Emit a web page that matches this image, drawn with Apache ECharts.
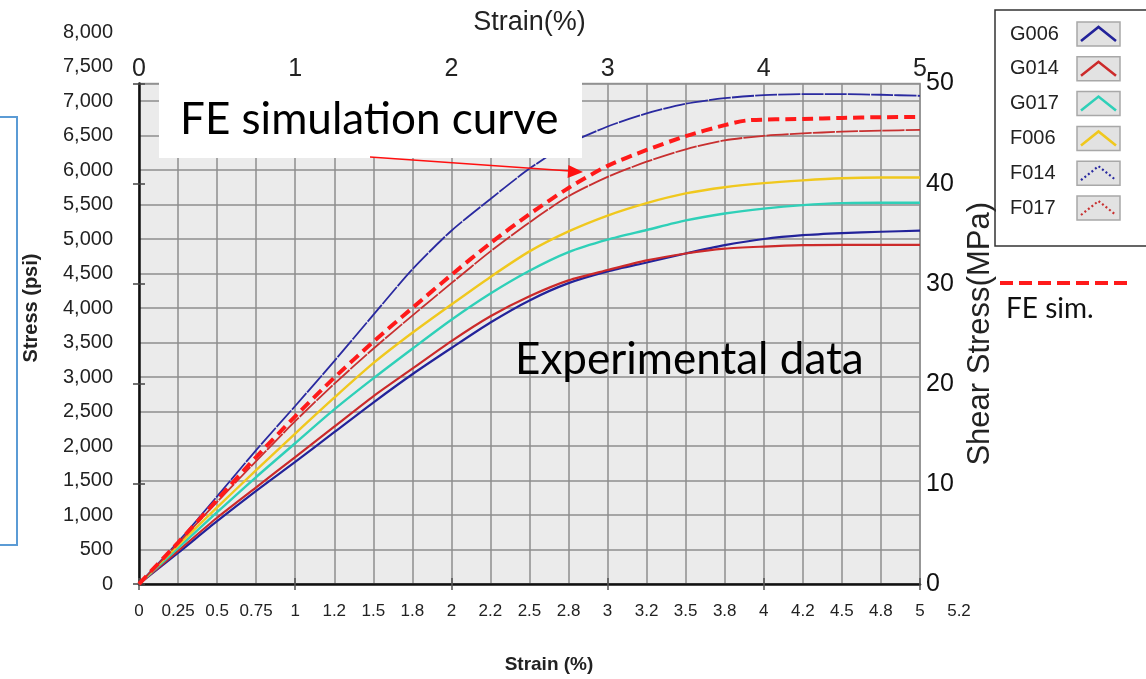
<!DOCTYPE html>
<html>
<head>
<meta charset="utf-8">
<script src="https://cdn.jsdelivr.net/npm/echarts@6/dist/echarts.min.js"></script>
<style>
html,body{margin:0;padding:0;background:#fff;}
#chart{width:1146px;height:679px;}
</style>
</head>
<body>
<div id="chart"></div>
<script>
// ---- data (strain in %, stress in psi) ----
const strain = [0,0.25,0.5,0.75,1,1.25,1.5,1.75,2,2.25,2.5,2.75,3,3.25,3.5,3.75,4,4.25,4.5,4.75,5];
const G006 = [0,450,910,1350,1770,2200,2630,3040,3420,3790,4110,4360,4530,4660,4790,4910,5000,5055,5085,5105,5120];
const G014 = [0,480,960,1400,1840,2280,2720,3120,3520,3880,4170,4400,4550,4690,4790,4860,4890,4910,4915,4915,4915];
const G017 = [0,520,1040,1550,2040,2530,2980,3410,3830,4210,4540,4810,4990,5130,5270,5370,5440,5490,5520,5525,5525];
const F006 = [0,560,1110,1650,2180,2700,3200,3640,4050,4450,4820,5110,5340,5520,5660,5750,5810,5850,5880,5890,5890];
const F014 = [0,610,1270,1940,2580,3230,3900,4560,5120,5580,6020,6380,6630,6820,6960,7040,7085,7100,7100,7090,7075];
const F017 = [0,590,1190,1780,2360,2900,3410,3890,4360,4820,5240,5620,5900,6120,6300,6430,6495,6530,6555,6570,6580];
const feStrain = [0,0.25,0.5,0.75,1,1.25,1.5,1.75,2,2.25,2.5,2.75,3,3.25,3.5,3.75,3.9,4.25,4.5,4.75,5];
const feSim = [0,600,1220,1840,2430,2990,3510,4000,4480,4940,5360,5740,6060,6290,6490,6650,6720,6740,6755,6765,6770];

const seriesNames = ['G006','G014','G017','F006','F014','F017'];
const bottomTickLabels = ['0','0.25','0.5','0.75','1','1.2','1.5','1.8','2','2.2','2.5','2.8','3','3.2','3.5','3.8','4','4.2','4.5','4.8','5','5.2'];
const topTickLabels = ['0','1','2','3','4','5'];
const mpaTickLabels = ['0','10','20','30','40','50'];

// ---- styles ----
const PSI_PER_MPA = 145.038;
const colors = {G006:'#23239a', G014:'#cc2a2a', G017:'#2fd0b8', F006:'#f0c81e', F014:'#2a2aa0', F017:'#c83030', FE:'#ff1a1a'};
const dashes = {G006:'solid', G014:'solid', G017:'solid', F006:'solid', F014:[22,1.2], F017:[22,1.2]};
const widths = {G006:2.2, G014:2.2, G017:2.4, F006:2.4, F014:1.8, F017:1.8};
const dataMap = {G006, G014, G017, F006, F014, F017};

const pair = (xs, ys) => xs.map((x, i) => [x, ys[i]]);
const FONT = "'Liberation Sans', Arial, sans-serif";
const ANNO = "Lato, 'Open Sans', sans-serif";

const plot = {left:139, top:83.6, width:781, height:500.4};

const series = seriesNames.map(n => ({
  name: n, type: 'line', xAxisIndex: 0, yAxisIndex: 0,
  data: pair(strain, dataMap[n]), showSymbol: false, symbol: 'none',
  smooth: 0.25,
  lineStyle: {color: colors[n], width: widths[n], type: dashes[n]},
  itemStyle: {color: colors[n]}, z: 3
}));
series.push({
  name: 'FE sim.', type: 'line', xAxisIndex: 0, yAxisIndex: 0,
  data: pair(feStrain, feSim), showSymbol: false, symbol: 'none',
  smooth: 0.25,
  lineStyle: {color: colors.FE, width: 4, type: [11, 6]}, z: 5
});

// legend (text via legend component, icon boxes drawn as graphics)
const legendTop = 10, legendPadTop = 13, itemH = 22, itemGap = 12.8;
const legendIcons = [];
seriesNames.forEach((n, i) => {
  const y = legendTop + legendPadTop + i * (itemH + itemGap) - 1;
  const x = 1077;
  legendIcons.push({
    type: 'rect', z: 6,
    shape: {x: x, y: y, width: 43, height: 24},
    style: {fill: '#e2e2e2', stroke: '#a8a8a8', lineWidth: 1.5}
  });
  const dotted = (n === 'F014' || n === 'F017');
  legendIcons.push({
    type: 'polyline', z: 7,
    shape: {points: [[x + 4, y + 19], [x + 21.5, y + 5], [x + 39, y + 19]]},
    style: {stroke: colors[n], lineWidth: dotted ? 2.2 : 2.6, fill: 'none',
            lineDash: dotted ? [2, 2.5] : null}
  });
});

const chart = echarts.init(document.getElementById('chart'));
chart.setOption({
  animation: false,
  backgroundColor: '#ffffff',
  grid: [
    {left: plot.left, top: plot.top, width: plot.width, height: plot.height, show: true,
     backgroundColor: '#ebebeb', borderColor: '#9a9a9a', borderWidth: 1.5},
    {left: plot.left, top: 584 - 552, width: plot.width, height: 552, show: false},
    {left: plot.left, top: plot.top, width: 820, height: plot.height, show: false}
  ],
  xAxis: [
    {gridIndex: 0, type: 'value', position: 'bottom', min: 0, max: 5, interval: 0.25,
     axisLine: {show: true, onZero: false, lineStyle: {color: '#111', width: 2.5}},
     axisTick: {show: false}, axisLabel: {show: false},
     splitLine: {show: true, lineStyle: {color: '#8e8e8e', width: 1.5}}},
    {gridIndex: 0, type: 'value', position: 'top', min: 0, max: 5, interval: 1,
     axisLine: {show: false}, splitLine: {show: false},
     axisTick: {show: true, inside: true, length: 6, lineStyle: {color: '#555', width: 1.5}},
     axisLabel: {show: true, margin: 2, fontFamily: FONT, fontSize: 25, color: '#222',
                 formatter: v => topTickLabels[Math.round(v)]},
     name: 'Strain(%)', nameLocation: 'middle', nameGap: 48,
     nameTextStyle: {fontFamily: FONT, fontSize: 27, color: '#222'}},
    {gridIndex: 0, type: 'value', position: 'bottom', min: 0, max: 5, interval: 1,
     axisLine: {show: false}, splitLine: {show: false}, axisLabel: {show: false},
     axisTick: {show: true, inside: true, length: 6, lineStyle: {color: '#555', width: 1.5}}},
    {gridIndex: 1, type: 'value', show: false, min: 0, max: 5},
    {gridIndex: 2, type: 'value', position: 'bottom', min: 0, max: 5.25, interval: 0.25,
     axisLine: {show: false}, axisTick: {show: false}, splitLine: {show: false},
     axisLabel: {show: true, margin: 21, fontFamily: FONT, fontSize: 17, color: '#222',
                 formatter: v => bottomTickLabels[Math.round(v / 0.25)]},
     name: 'Strain (%)', nameLocation: 'middle', nameGap: 73,
     nameTextStyle: {fontFamily: FONT, fontSize: 19, fontWeight: 'bold', color: '#222'}}
  ],
  yAxis: [
    {gridIndex: 0, type: 'value', position: 'left', min: 0, max: 50 * PSI_PER_MPA, interval: 500,
     axisLine: {show: true, onZero: false, lineStyle: {color: '#111', width: 2.5}},
     axisTick: {show: false}, axisLabel: {show: false},
     splitLine: {show: true, lineStyle: {color: '#8e8e8e', width: 1.5}}},
    {gridIndex: 0, type: 'value', position: 'right', min: 0, max: 50, interval: 10,
     axisLine: {show: false}, splitLine: {show: false},
     axisTick: {show: true, inside: true, length: 6, lineStyle: {color: '#444', width: 1.5}},
     axisLabel: {show: true, margin: 6, fontFamily: FONT, fontSize: 25, color: '#111',
                 formatter: v => mpaTickLabels[Math.round(v / 10)]},
     name: 'Shear Stress(MPa)', nameLocation: 'middle', nameGap: 41, nameRotate: 90,
     nameTextStyle: {fontFamily: FONT, fontSize: 31, color: '#222'}},
    {gridIndex: 0, type: 'value', position: 'left', min: 0, max: 50, interval: 10,
     axisLine: {show: false}, splitLine: {show: false}, axisLabel: {show: false},
     axisTick: {show: true, inside: true, length: 6, lineStyle: {color: '#444', width: 1.5}}},
    {gridIndex: 1, type: 'value', position: 'left', min: 0, max: 8000, interval: 500,
     axisLine: {show: false}, axisTick: {show: false}, splitLine: {show: false},
     axisLabel: {show: true, margin: 26, fontFamily: FONT, fontSize: 20, color: '#222',
                 formatter: v => v.toLocaleString('en-US')},
     name: 'Stress (psi)', nameLocation: 'middle', nameGap: 98, nameRotate: 90,
     nameTextStyle: {fontFamily: FONT, fontSize: 20, fontWeight: 'bold', color: '#222'}},
    {gridIndex: 2, type: 'value', show: false, min: 0, max: 1}
  ],
  legend: {
    data: seriesNames, orient: 'vertical', left: 995, top: legendTop,
    padding: [legendPadTop, 95, 27, 9], itemWidth: 1, itemHeight: itemH, itemGap: itemGap,
    icon: 'rect', itemStyle: {color: 'rgba(0,0,0,0)', borderWidth: 0},
    align: 'left', borderColor: '#333', borderWidth: 1.5, z: 4,
    textStyle: {fontFamily: FONT, fontSize: 20, color: '#222'},
    selectedMode: false
  },
  graphic: [
    // left blue box edge
    {type: 'polyline', z: 10, shape: {points: [[-5, 117], [17, 117], [17, 545], [-5, 545]]},
     style: {stroke: '#5b9bd5', lineWidth: 2, fill: 'none'}},
    // white annotation box
    {type: 'rect', z: 20, shape: {x: 159, y: 82, width: 423, height: 76}, style: {fill: '#ffffff'}},
    {type: 'text', z: 21, left: 180, top: 98,
     style: {text: 'FE simulation curve', fontFamily: ANNO, fontSize: 44, fill: '#000'}},
    {type: 'line', z: 21, shape: {x1: 370, y1: 157, x2: 570, y2: 171},
     style: {stroke: '#ff1010', lineWidth: 1.5}},
    {type: 'polygon', z: 21, shape: {points: [[583, 172], [568.4, 165], [567.6, 178]]},
     style: {fill: '#ff1010'}},
    {type: 'text', z: 21, left: 515, top: 338,
     style: {text: 'Experimental data', fontFamily: ANNO, fontSize: 44, fill: '#000'}},
    // FE sim key
    {type: 'line', z: 21, shape: {x1: 1000, y1: 283, x2: 1127, y2: 283},
     style: {stroke: '#ff1a1a', lineWidth: 4, lineDash: [13, 6]}},
    {type: 'text', z: 21, left: 1006, top: 295,
     style: {text: 'FE sim.', fontFamily: ANNO, fontSize: 28, fill: '#111'}}
  ].concat(legendIcons),
  series: series
});
</script>
</body>
</html>
